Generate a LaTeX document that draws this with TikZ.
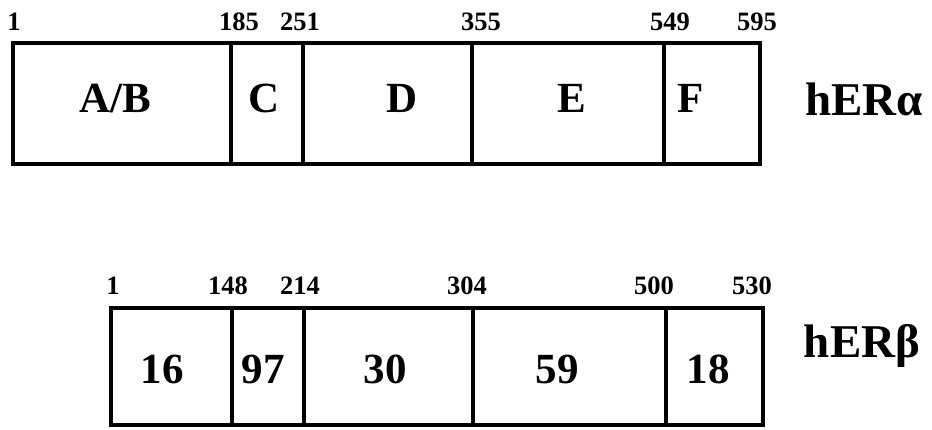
\documentclass[tikz,border=0pt]{standalone}
\usepackage{fontspec}
\setmainfont{Liberation Serif}
\begin{document}
\begin{tikzpicture}[x=1pt,y=-1pt,
  segbox/.style={draw=black, line width=3.5pt, fill=none, inner sep=0pt, outer sep=0pt, anchor=north west},
  seglab/.style={font=\fontsize{43}{43}\selectfont\bfseries, anchor=base, inner sep=0pt},
  posnum/.style={font=\fontsize{26.5}{26.5}\selectfont\bfseries, anchor=base, inner sep=0pt},
  protname/.style={font=\fontsize{47}{47}\selectfont\bfseries, anchor=base, inner sep=0pt}]
\useasboundingbox (0,0) rectangle (932,429);
% hER alpha
\node[segbox, minimum width=218pt, minimum height=121pt] (a1) at (13,43) {};
\node[segbox, minimum width=72pt, minimum height=121pt] (a2) at (231,43) {};
\node[segbox, minimum width=169pt, minimum height=121pt] (a3) at (303,43) {};
\node[segbox, minimum width=192pt, minimum height=121pt] (a4) at (472,43) {};
\node[segbox, minimum width=96pt, minimum height=121pt] (a5) at (664,43) {};
\node[seglab] (la1) at (115,112) {A/B};
\node[seglab] (la2) at (264,112) {C};
\node[seglab] (la3) at (402,112) {D};
\node[seglab] (la4) at (572,112) {E};
\node[seglab] (la5) at (691,112) {F};
\node[posnum] (na0) at (14,30) {1};
\node[posnum] (na1) at (239,30) {185};
\node[posnum] (na2) at (300,30) {251};
\node[posnum] (na3) at (481,30) {355};
\node[posnum] (na4) at (670,30) {549};
\node[posnum] (na5) at (757,30) {595};
\node[protname] (ha) at (864,115) {hERα};
% hER beta
\node[segbox, minimum width=121pt, minimum height=117pt] (b1) at (111,308) {};
\node[segbox, minimum width=72pt, minimum height=117pt] (b2) at (232,308) {};
\node[segbox, minimum width=169pt, minimum height=117pt] (b3) at (304,308) {};
\node[segbox, minimum width=193pt, minimum height=117pt] (b4) at (473,308) {};
\node[segbox, minimum width=97pt, minimum height=117pt] (b5) at (666,308) {};
\node[seglab] (lb1) at (162,383) {16};
\node[seglab] (lb2) at (263,383) {97};
\node[seglab] (lb3) at (385,383) {30};
\node[seglab] (lb4) at (557,383) {59};
\node[seglab] (lb5) at (708,383) {18};
\node[posnum] (nb0) at (113,294) {1};
\node[posnum] (nb1) at (228,294) {148};
\node[posnum] (nb2) at (300,294) {214};
\node[posnum] (nb3) at (467,294) {304};
\node[posnum] (nb4) at (654,294) {500};
\node[posnum] (nb5) at (752,294) {530};
\node[protname] (hb) at (862,357) {hERβ};
\end{tikzpicture}
\end{document}
